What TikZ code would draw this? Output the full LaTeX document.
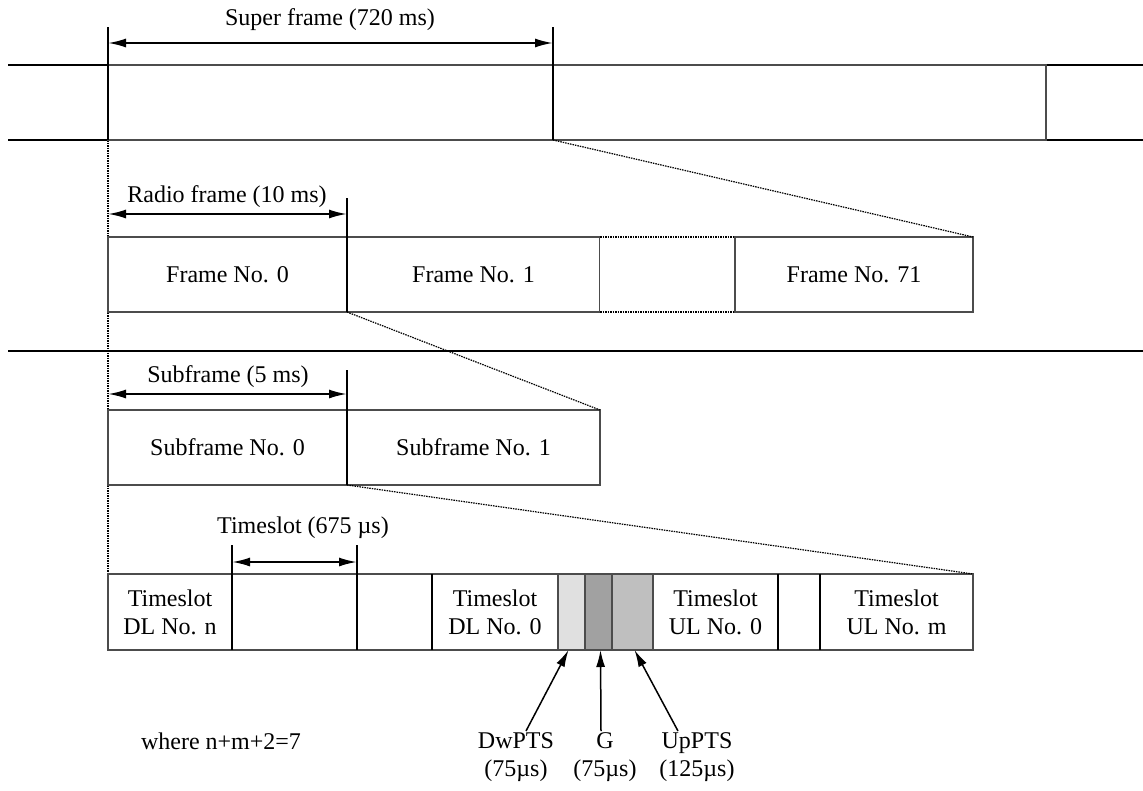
\documentclass[tikz,border=0pt]{standalone}
\usepackage{fontspec}
\setmainfont{Liberation Serif}
\usetikzlibrary{arrows.meta,positioning}

\begin{document}
\begin{tikzpicture}[
  x=1pt, y=-1pt,
  every node/.style={font=\fontsize{24}{28}\selectfont},
  cell/.style={draw=black!70, line width=1.2pt, fill=white, minimum height=75pt,
               inner sep=0pt, outer sep=0pt, align=center},
  tick/.style={line width=1.8pt},
  rule/.style={line width=2pt},
  dim/.style={{Latex[length=18pt,width=9pt]}-{Latex[length=18pt,width=9pt]}, line width=2pt},
  zoomline/.style={dash pattern=on 1.5pt off 1pt, line width=1.2pt},
  ptr/.style={-{Latex[length=17pt,width=9pt]}, line width=1.5pt},
  lab/.style={align=center, inner sep=1pt}
]
\useasboundingbox (0,0) rectangle (1143,790);

% dotted guide down the left edge
\coordinate (gtop) at (108,140);
\coordinate (gbot) at (108,574);
\draw[zoomline] (gtop) -- (gbot);

% super frame
\coordinate (r1a) at (8,65);   \coordinate (r1b) at (1143,65);
\coordinate (r2a) at (8,140);  \coordinate (r2b) at (1143,140);
\coordinate (r3a) at (8,351);  \coordinate (r3b) at (1143,351);
\draw[rule] (r1a) -- (r1b);
\draw[rule] (r2a) -- (r2b);
\draw[rule] (r3a) -- (r3b);
\node[cell, minimum width=938pt] (sup) at (577,102.5) {};
\coordinate (supa) at (108,27);
\coordinate (supb) at (553,27);
\coordinate (supend) at (553,140);
\coordinate (supl) at (108,43);
\coordinate (supr) at (553,43);
\draw[tick] (supa) -- (sup.south west);
\draw[tick] (supb) -- (supend);
\draw[dim] (supl) -- (supr);
\node (suplab) at (330,20) {Super frame (720 ms)};

% radio frames
\node[cell, minimum width=239pt] (f0) at (227.5,274.5) {Frame No. 0};
\node[cell, minimum width=253pt, right=0pt of f0] (f1) {Frame No. 1};
\node[cell, minimum width=135pt, right=0pt of f1, draw=none] (fdots) {};
\node[cell, minimum width=238pt, right=0pt of fdots] (f71) {Frame No. 71};
\draw[zoomline] (fdots.north west) -- (fdots.north east);
\draw[zoomline] (fdots.south west) -- (fdots.south east);
\draw[tick] (f1.north west) -- (f1.south west);
\coordinate (rfa) at (347,198);
\coordinate (rfl) at (108,214);
\coordinate (rfr) at (347,214);
\draw[tick] (rfa) -- (f0.south east);
\draw[dim] (rfl) -- (rfr);
\node (rflab) at (227,197) {Radio frame (10 ms)};
\draw[zoomline] (supend) -- (f71.north east);

% subframes
\node[cell, minimum width=239pt] (s0) at (227.5,447.5) {Subframe No. 0};
\node[cell, minimum width=253pt, right=0pt of s0] (s1) {Subframe No. 1};
\coordinate (sfa) at (347,370);
\coordinate (sfl) at (108,394);
\coordinate (sfr) at (347,394);
\draw[tick] (sfa) -- (s0.south east);
\draw[dim] (sfl) -- (sfr);
\node (sflab) at (228,377) {Subframe (5 ms)};
\draw[zoomline] (f0.south east) -- (s1.north east);

% timeslots
\node[cell, minimum width=124pt, minimum height=76pt] (t0) at (170,612) {Timeslot\\DL No. n};
\node[cell, minimum width=125pt, minimum height=76pt, right=0pt of t0] (t1) {};
\node[cell, minimum width=75pt, minimum height=76pt, right=0pt of t1] (t2) {};
\node[cell, minimum width=126pt, minimum height=76pt, right=0pt of t2] (t3) {Timeslot\\DL No. 0};
\node[cell, minimum width=27pt, minimum height=76pt, right=0pt of t3, fill=black!12] (dw) {};
\node[cell, minimum width=27pt, minimum height=76pt, right=0pt of dw, fill=black!37] (g) {};
\node[cell, minimum width=41pt, minimum height=76pt, right=0pt of g, fill=black!25] (up) {};
\node[cell, minimum width=125pt, minimum height=76pt, right=0pt of up] (t4) {Timeslot\\UL No. 0};
\node[cell, minimum width=42pt, minimum height=76pt, right=0pt of t4] (t5) {};
\node[cell, minimum width=153pt, minimum height=76pt, right=0pt of t5] (t6) {Timeslot\\UL No. m};
\coordinate (tsa) at (232,545);
\coordinate (tsb) at (357,545);
\coordinate (tsl) at (232,562);
\coordinate (tsr) at (357,562);
\draw[tick] (tsa) -- (t1.south west);
\draw[tick] (tsb) -- (t2.south west);
\draw[tick] (t3.north west) -- (t3.south west);
\draw[tick] (t5.north west) -- (t5.south west);
\draw[tick] (t6.north west) -- (t6.south west);
\draw[dim] (tsl) -- (tsr);
\node (tslab) at (303,528) {Timeslot (675 µs)};
\draw[zoomline] (s0.south east) -- (t6.north east);

% pilot and guard fields
\node[lab, anchor=north] (dwl) at (516,731) {DwPTS\\(75µs)};
\node[lab, anchor=north] (gl) at (605,731) {G\\(75µs)};
\node[lab, anchor=north] (upl) at (697,731) {UpPTS\\(125µs)};
\draw[ptr] ([xshift=10pt]dwl.north) -- ([xshift=-3pt]dw.south);
\draw[ptr] ([xshift=-4pt]gl.north) -- ([xshift=2pt]g.south);
\draw[ptr] ([xshift=-19pt]upl.north) -- ([xshift=2pt]up.south);
\node (note) at (221,741) {where n+m+2=7};
\end{tikzpicture}
\end{document}
